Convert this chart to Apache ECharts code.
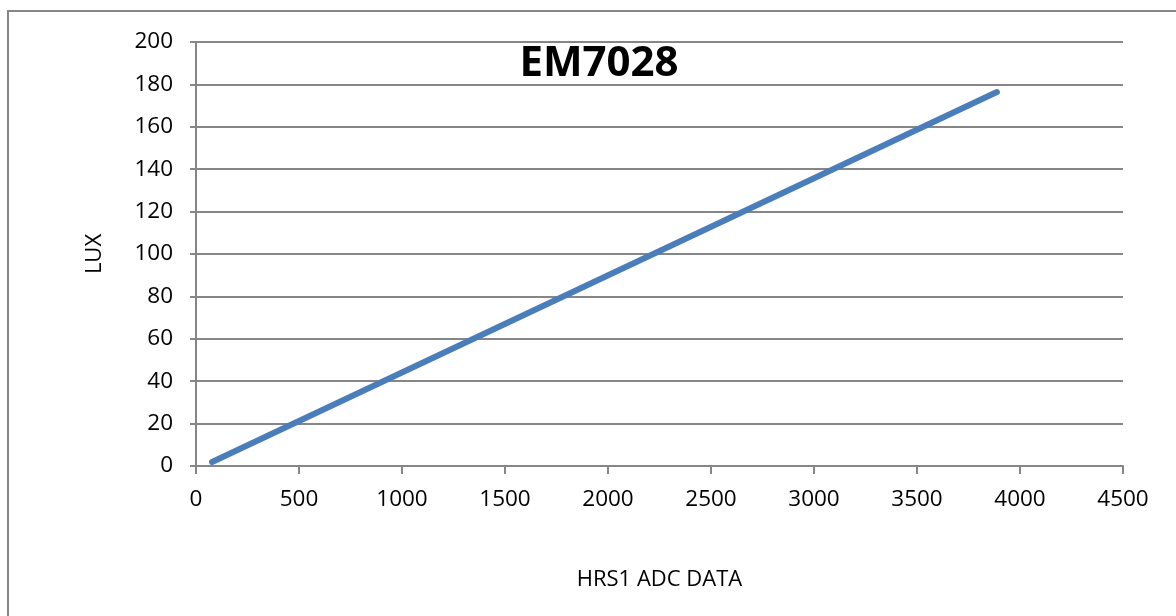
<!DOCTYPE html>
<html><head><meta charset="utf-8">
<script src="https://cdn.jsdelivr.net/npm/echarts@6/dist/echarts.min.js"></script>
<style>html,body{margin:0;padding:0;background:#fff}#c{width:1176px;height:616px}</style>
</head><body><div id="c"></div>
<script>
const titleText = "EM7028";
const xName = "HRS1 ADC DATA";
const yName = "LUX";
const adcData = [78, 3888];
const luxData = [1.9, 176.4];
const points = adcData.map((x, i) => [x, luxData[i]]);

const chart = echarts.init(document.getElementById('c'));
const font = "'Open Sans', sans-serif";
const grey = '#868686';
chart.setOption({
  animation: false,
  backgroundColor: '#fff',
  graphic: [{
    type: 'rect', shape: {x: 8, y: 11, width: 1200, height: 640},
    style: {fill: 'none', stroke: grey, lineWidth: 2}, silent: true
  }],
  title: {
    text: titleText, left: 594, top: 38, textAlign: 'center',
    textStyle: {fontFamily: font, fontSize: 42, fontWeight: 'bold', color: '#000'}
  },
  grid: {left: 196, right: 53, top: 42, bottom: 150},
  xAxis: {
    type: 'value', min: 0, max: 4500, interval: 500,
    name: xName, nameLocation: 'middle', nameGap: 103,
    nameTextStyle: {fontFamily: font, fontSize: 22, color: '#000'},
    axisLine: {show: true, lineStyle: {color: grey, width: 2}},
    axisTick: {show: true, length: 8, lineStyle: {color: grey, width: 2}},
    axisLabel: {fontFamily: font, fontSize: 22.5, color: '#000', margin: 22, formatter: v => String(v)},
    splitLine: {show: false}
  },
  yAxis: {
    type: 'value', min: 0, max: 200, interval: 20,
    name: yName, nameLocation: 'middle', nameGap: 90, nameRotate: 90,
    nameTextStyle: {fontFamily: font, fontSize: 22, color: '#000'},
    axisLine: {show: true, lineStyle: {color: grey, width: 2}},
    axisTick: {show: true, length: 6, lineStyle: {color: grey, width: 2}},
    axisLabel: {fontFamily: font, fontSize: 22.5, color: '#000', margin: 23, formatter: v => String(v)},
    splitLine: {show: true, lineStyle: {color: grey, width: 2}}
  },
  series: [{
    type: 'line', data: points, showSymbol: false, symbol: 'none',
    lineStyle: {color: '#4a7ebb', width: 6, cap: 'round'}
  }]
});
</script></body></html>
